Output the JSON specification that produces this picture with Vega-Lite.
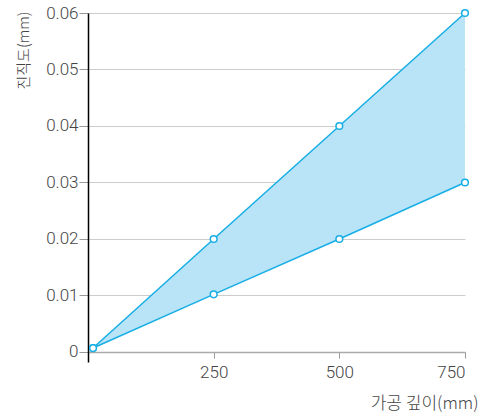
{
  "$schema": "https://vega.github.io/schema/vega-lite/v6.json",
  "width": 377,
  "height": 349,
  "autosize": {"type": "none"},
  "padding": {"left": 88, "top": 13, "right": 16, "bottom": 57},
  "config": {"view": {"stroke": null}, "font": "Noto Sans CJK KR"},
  "data": {"values": [
    {"x": 10, "lo": 0.0007, "hi": 0.0007},
    {"x": 250, "lo": 0.0102, "hi": 0.02},
    {"x": 500, "lo": 0.02, "hi": 0.04},
    {"x": 750, "lo": 0.03, "hi": 0.06}
  ]},
  "encoding": {
    "x": {"field": "x", "type": "quantitative", "scale": {"domain": [0, 750], "nice": false},
      "axis": {"values": [250, 500, 750], "grid": false, "offset": -10, "domainColor": "#aaaaaa", "domainWidth": 1.5,
        "tickColor": "#999999", "tickSize": 6, "labelPadding": 6, "labelFontSize": 17, "labelFont": "Roboto", "labelColor": "#444444", "labelFontWeight": 300,
        "title": "가공 깊이(mm)", "titleFontSize": 17, "titleFontWeight": 300, "titleColor": "#444444",
        "titleX": 390, "titleY": 51, "titleAlign": "right", "titleBaseline": "middle", "titleAnchor": null}}
  },
  "layer": [
    {"mark": {"type": "area", "color": "#b9e3f7", "opacity": 1},
     "encoding": {
       "y": {"field": "lo", "type": "quantitative", "scale": {"domain": [-0.00177, 0.06], "nice": false, "zero": false},
         "title": "진직도(mm)",
         "axis": {"values": [0, 0.01, 0.02, 0.03, 0.04, 0.05, 0.06], "labelExpr": "datum.value == 0 ? '0' : format(datum.value, '.2f')",
           "grid": true, "gridColor": "#cccccc", "domainColor": "#000000", "domainWidth": 1.5, "tickColor": "#999999", "tickSize": 9,
           "labelPadding": 1, "labelFontSize": 17, "labelFont": "Roboto", "labelColor": "#444444", "labelFontWeight": 300,
           "titleFontSize": 15, "titleFontWeight": 300, "titleColor": "#444444",
           "titleX": -65, "titleY": -2, "titleAlign": "right", "titleBaseline": "middle", "titleAngle": -90, "titleAnchor": null}},
       "y2": {"field": "hi"}
     }},
    {"transform": [{"fold": ["lo", "hi"], "as": ["series", "value"]}],
     "mark": {"type": "line", "color": "#17aee6", "strokeWidth": 1.5},
     "encoding": {"y": {"field": "value", "type": "quantitative", "title": "진직도(mm)"}, "detail": {"field": "series"}}},
    {"transform": [{"fold": ["lo", "hi"], "as": ["series", "value"]}],
     "mark": {"type": "point", "filled": true, "fill": "white", "stroke": "#17aee6", "strokeWidth": 1.5, "size": 45, "opacity": 1},
     "encoding": {"y": {"field": "value", "type": "quantitative", "title": "진직도(mm)"}, "detail": {"field": "series"}}}
  ]
}
